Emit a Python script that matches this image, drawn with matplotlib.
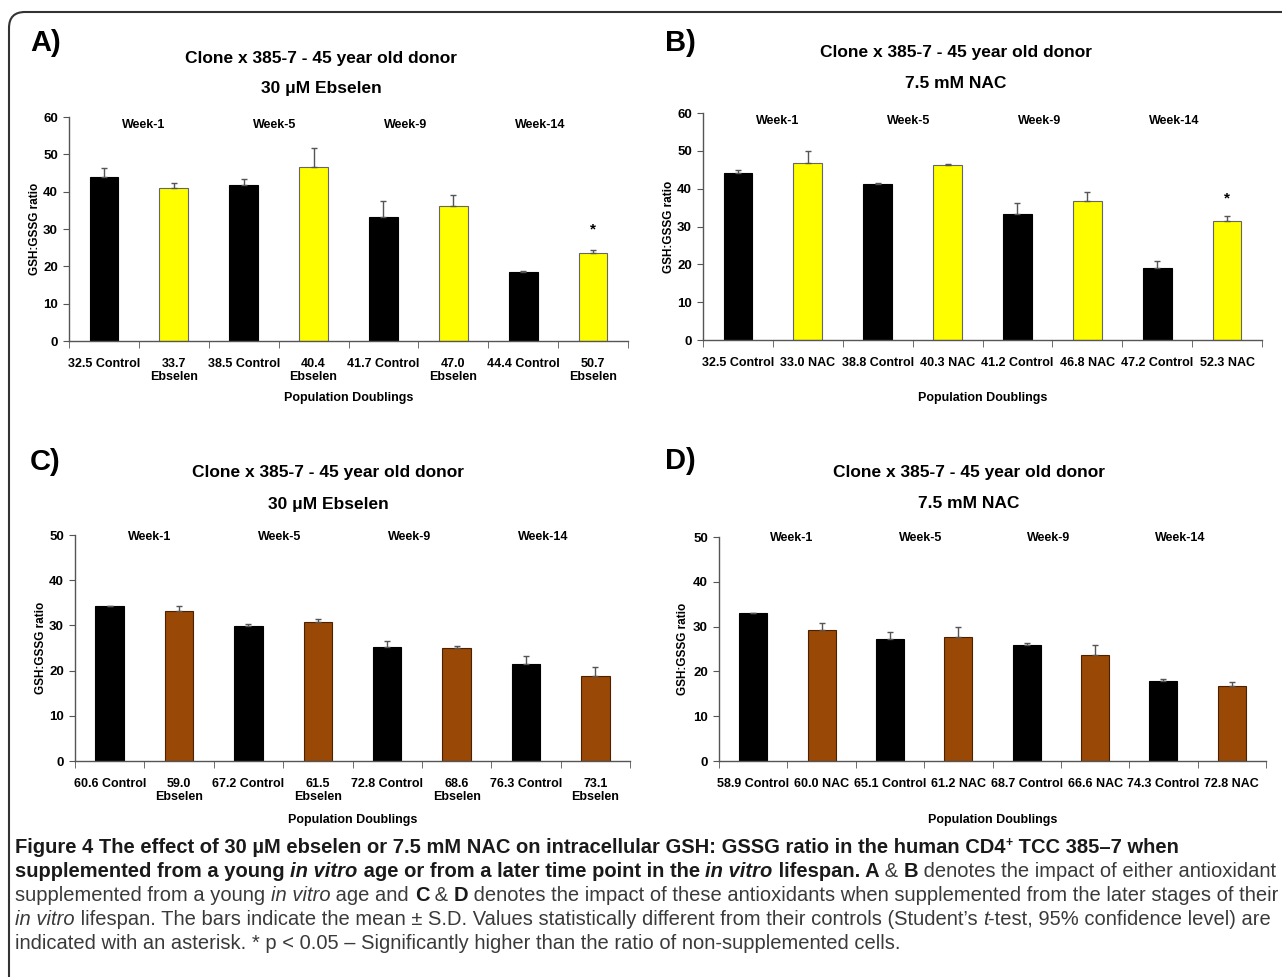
import matplotlib
matplotlib.use("Agg")
import matplotlib.pyplot as plt
import numpy as np
from matplotlib.patches import FancyBboxPatch
from matplotlib.transforms import IdentityTransform

# ---- data ----
weeks = ["Week-1", "Week-5", "Week-9", "Week-14"]

a_labels = ["32.5 Control", "33.7\nEbselen", "38.5 Control", "40.4\nEbselen",
            "41.7 Control", "47.0\nEbselen", "44.4 Control", "50.7\nEbselen"]
a_mean = [44.0, 41.1, 41.8, 46.5, 33.2, 36.2, 18.5, 23.5]
a_sd = [2.3, 1.3, 1.7, 5.1, 4.2, 2.8, 0.3, 0.9]

b_labels = ["32.5 Control", "33.0 NAC", "38.8 Control", "40.3 NAC",
            "41.2 Control", "46.8 NAC", "47.2 Control", "52.3 NAC"]
b_mean = [44.2, 46.7, 41.2, 46.2, 33.3, 36.7, 19.0, 31.5]
b_sd = [0.8, 3.2, 0.4, 0.2, 2.8, 2.3, 1.9, 1.2]

c_labels = ["60.6 Control", "59.0\nEbselen", "67.2 Control", "61.5\nEbselen",
            "72.8 Control", "68.6\nEbselen", "76.3 Control", "73.1\nEbselen"]
c_mean = [34.2, 33.2, 29.8, 30.7, 25.2, 24.9, 21.5, 18.8]
c_sd = [0.0, 1.1, 0.5, 0.7, 1.3, 0.5, 1.8, 2.0]

d_labels = ["58.9 Control", "60.0 NAC", "65.1 Control", "61.2 NAC",
            "68.7 Control", "66.6 NAC", "74.3 Control", "72.8 NAC"]
d_mean = [33.1, 29.2, 27.3, 27.75, 25.8, 23.7, 17.8, 16.7]
d_sd = [0.0, 1.5, 1.5, 2.2, 0.6, 2.1, 0.6, 1.0]

title_top = "Clone x 385-7 - 45 year old donor"
ebselen_title = "30 \u03bcM Ebselen"
nac_title = "7.5 mM NAC"

W, H = 1282, 977
NARROW = ["Liberation Sans Narrow", "Liberation Sans", "DejaVu Sans"]
plt.rcParams["font.family"] = NARROW

fig = plt.figure(figsize=(W / 100, H / 100), dpi=100)


def fx(x):
    return x / W


def fy(y):
    return 1 - y / H


def panel(rect, mean, sd, labels, treat_col, treat_edge, ymax, letter, letter_xy,
          titles, title_x, title_y, week_y, ylab_x, xlab_y, star_y=None):
    x0, y0, x1, y1 = rect
    ax = fig.add_axes([fx(x0), fy(y1), (x1 - x0) / W, (y1 - y0) / H])
    x = np.arange(len(mean))
    cols = ["black", treat_col] * 4
    edges = ["black", treat_edge] * 4
    ax.bar(x, mean, width=0.41, color=cols, edgecolor=edges, linewidth=0.8, zorder=2)
    ax.errorbar(x, mean, yerr=[np.zeros(len(sd)), sd], fmt="none", ecolor="#555555",
                elinewidth=1, capsize=2.5, capthick=1, zorder=3)
    ax.set_xlim(-0.5, 7.5)
    ax.set_ylim(0, ymax)
    ax.set_yticks(np.arange(0, ymax + 1, 10))
    ax.set_xticks(x)
    ax.set_xticklabels(labels, fontsize=9, fontweight="bold", linespacing=1.15)
    ax.set_xticks(np.arange(-0.5, 8), minor=True)
    ax.tick_params(axis="x", which="major", length=0, pad=12)
    ax.tick_params(axis="x", which="minor", length=5, color="#555555")
    ax.tick_params(axis="y", length=4, color="#555555", pad=4)
    for t in ax.get_yticklabels():
        t.set_fontweight("bold")
        t.set_fontsize(9.5)
    for s in ["top", "right"]:
        ax.spines[s].set_visible(False)
    for s in ["left", "bottom"]:
        ax.spines[s].set_color("#555555")
        ax.spines[s].set_linewidth(1)
    for pos, w in zip([0.57, 2.45, 4.32, 6.25], weeks):
        ax.text(pos, week_y, w, ha="center", va="center", fontsize=9, fontweight="bold")
    if star_y is not None:
        ax.text(7, star_y, "*", ha="center", va="center", fontsize=11, fontweight="bold")
    fig.text(fx(letter_xy[0]), fy(letter_xy[1]), letter, ha="left", va="center",
             fontsize=21, fontweight="bold", family=["Liberation Sans", "DejaVu Sans"])
    fig.text(fx(title_x), fy(title_y[0]), titles[0], ha="center", va="center",
             fontsize=12.5, fontweight="bold")
    fig.text(fx(title_x), fy(title_y[1]), titles[1], ha="center", va="center",
             fontsize=12.5, fontweight="bold")
    fig.text(fx(ylab_x), fy((y0 + y1) / 2), "GSH:GSSG ratio", rotation=90, ha="center",
             va="center", fontsize=8.5, fontweight="bold",
             family=["Liberation Sans", "DejaVu Sans"])
    fig.text(fx((x0 + x1) / 2), fy(xlab_y), "Population Doublings", ha="center",
             va="center", fontsize=9, fontweight="bold")
    return ax


panel((69, 117, 628, 341), a_mean, a_sd, a_labels, "#FFFF00", "#666666", 60, "A)",
      (30, 43), (title_top, ebselen_title), 321, (58, 88), 57.9, 35, 398, star_y=30)
panel((703, 113, 1262, 340), b_mean, b_sd, b_labels, "#FFFF00", "#666666", 60, "B)",
      (665, 43), (title_top, nac_title), 956, (53, 83), 57.9, 669, 398, star_y=37.5)
panel((75, 535, 630, 761), c_mean, c_sd, c_labels, "#994806", "#4a2200", 50, "C)",
      (30, 462), (title_top, ebselen_title), 328, (472, 505), 49.6, 41, 820)
panel((719, 537, 1266, 761), d_mean, d_sd, d_labels, "#994806", "#4a2200", 50, "D)",
      (665, 461), (title_top, nac_title), 969, (473, 504), 49.7, 683, 820)

# rounded frame (only top-left corner visible in the crop)
frame = FancyBboxPatch((9, -40), 1330, H - 12 + 40, boxstyle="round,pad=0,rounding_size=16",
                       transform=IdentityTransform(), fill=False, edgecolor="#333333",
                       linewidth=1.5)
fig.patches.append(frame)

# ---- caption ----
B, R, I, BI = ("bold", "normal"), ("normal", "normal"), ("normal", "italic"), ("bold", "italic")
cap_lines = [
    [("Figure 4 The effect of 30 \u00b5M ebselen or 7.5 mM NAC on intracellular GSH: GSSG ratio in the human CD4", B, 0),
     ("+", B, 1), (" TCC 385\u20137 when", B, 0)],
    [("supplemented from a young ", B, 0), ("in vitro", BI, 0), (" age or from a later time point in the ", B, 0),
     ("in vitro", BI, 0), (" lifespan. A", B, 0), (" & ", R, 0), ("B", B, 0),
     (" denotes the impact of either antioxidant", R, 0)],
    [("supplemented from a young ", R, 0), ("in vitro", I, 0), (" age and ", R, 0), ("C", B, 0), (" & ", R, 0),
     ("D", B, 0), (" denotes the impact of these antioxidants when supplemented from the later stages of their", R, 0)],
    [("in vitro", I, 0), (" lifespan. The bars indicate the mean \u00b1 S.D. Values statistically different from their "
     "controls (Student\u2019s ", R, 0), ("t", I, 0), ("-test, 95% confidence level) are", R, 0)],
    [("indicated with an asterisk. * p < 0.05 \u2013 Significantly higher than the ratio of non-supplemented cells.", R, 0)],
]
cap_base = [853, 877, 901, 925, 949]

renderer = fig.canvas.get_renderer()


def width_of(text, size, weight, style):
    t = fig.text(0, 0, text + "|", fontsize=size, fontweight=weight, fontstyle=style)
    p = fig.text(0, 0, "|", fontsize=size, fontweight=weight, fontstyle=style)
    w = t.get_window_extent(renderer).width - p.get_window_extent(renderer).width
    t.remove()
    p.remove()
    return w


# fit the caption font so that the third (full) line spans the frame width
probe = 13.0
w3 = sum(width_of(t, probe, st[0], st[1]) for t, st, _ in cap_lines[2])
cap_size = probe * (1272 - 15) / w3

for line, base in zip(cap_lines, cap_base):
    x = 15
    for text, st, sup in line:
        size = cap_size * (0.6 if sup else 1)
        col = "#1a1a1a" if st[0] == "bold" else "#3a3a3a"
        dy = -7 if sup else 0
        fig.text(fx(x), fy(base + dy), text, fontsize=size, fontweight=st[0], fontstyle=st[1],
                 va="baseline", ha="left", color=col)
        x += width_of(text, size, st[0], st[1])

fig.savefig("out.png", dpi=100)
